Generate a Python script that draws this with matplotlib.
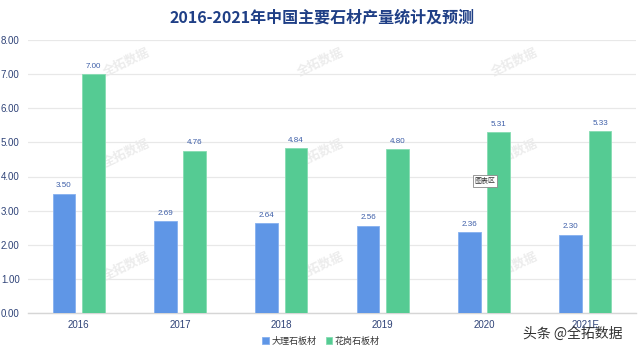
import matplotlib
matplotlib.use('Agg')
import matplotlib.pyplot as plt
import numpy as np

years = ['2016', '2017', '2018', '2019', '2020', '2021E']
marble = [3.50, 2.69, 2.64, 2.56, 2.36, 2.30]
granite = [7.00, 4.76, 4.84, 4.80, 5.31, 5.33]
series_names = ['大理石板材', '花岗石板材']
title = '2016-2021年中国主要石材产量统计及预测'
y_ticks = [0, 1, 2, 3, 4, 5, 6, 7, 8]
watermark = '全拓数据'
source = '头条 @全拓数据'

plt.rcParams['font.family'] = ['Liberation Sans', 'Noto Sans CJK SC', 'DejaVu Sans']

W, H = 640, 350
fig = plt.figure(figsize=(6.4, 3.5), dpi=100)
ax = fig.add_axes([28 / W, 1 - 313 / H, (636 - 28) / W, (313 - 40) / H])

x = np.arange(len(years))
w = 0.222
off = 0.145
blue = '#5f96e6'
green = '#55cb93'
label_col = '#3d5ea8'
tick_col = '#2f4378'

b1 = ax.bar(x - off, marble, w, color=blue, edgecolor='#86b0ef', linewidth=0.6,
            label=series_names[0], zorder=3)
b2 = ax.bar(x + off, granite, w, color=green, edgecolor='#86dcb2', linewidth=0.6,
            label=series_names[1], zorder=3)
for bars in (b1, b2):
    ax.bar_label(bars, fmt='%.2f', padding=3, fontsize=5.8, color=label_col)

ax.set_xlim(-0.5, len(years) - 0.5)
ax.set_ylim(0, 8)
ax.set_yticks(y_ticks)
ax.set_yticklabels([f'{v:.2f}' for v in y_ticks])
ax.set_xticks(x)
ax.set_xticklabels(years)
ax.tick_params(axis='both', length=0, labelsize=7, colors=tick_col)
ax.tick_params(axis='y', pad=6)
ax.tick_params(axis='x', pad=5)
ax.grid(axis='y', color='#e8e8e8', linewidth=0.9, zorder=0)
ax.set_axisbelow(True)
for s in ['top', 'right', 'left']:
    ax.spines[s].set_visible(False)
ax.spines['bottom'].set_color('#d6d6d6')
ax.spines['bottom'].set_linewidth(1.0)

# watermarks (behind bars)
for wx in (127, 321, 515):
    for wy in (62, 153, 266):
        ax.text(wx / W, 1 - wy / H, watermark, transform=fig.transFigure,
                rotation=25, fontsize=9, color='#ececec', ha='center', va='center',
                zorder=1, family=['Noto Sans CJK SC', 'DejaVu Sans'], fontweight='bold')

fig.text(322 / W, 1 - 18 / H, title, ha='center', va='center', fontsize=11.5,
         fontweight='bold', color='#1f3f86', family=['Noto Sans CJK SC', 'DejaVu Sans'])

leg = fig.legend(loc='center', bbox_to_anchor=(321 / W, 1 - 341 / H), ncol=2,
                 frameon=False, fontsize=6.5, handlelength=0.7, handleheight=0.7,
                 handletextpad=0.3, columnspacing=1.0)
for t in leg.get_texts():
    t.set_color('#333333')
    t.set_family(['Noto Sans CJK SC', 'DejaVu Sans'])

fig.text(485 / W, 1 - 181 / H, '图表区', ha='center', va='center', fontsize=5,
         color='#333333', family=['Noto Sans CJK SC', 'DejaVu Sans'], zorder=10,
         bbox=dict(boxstyle='square,pad=0.25', facecolor='white', edgecolor='#888888',
                   linewidth=0.6))

fig.text(573 / W, 1 - 334 / H, source, ha='center', va='center', fontsize=10,
         color='#333333', family=['Noto Sans CJK SC', 'DejaVu Sans'], zorder=10)

fig.savefig('out.png', dpi=100)
